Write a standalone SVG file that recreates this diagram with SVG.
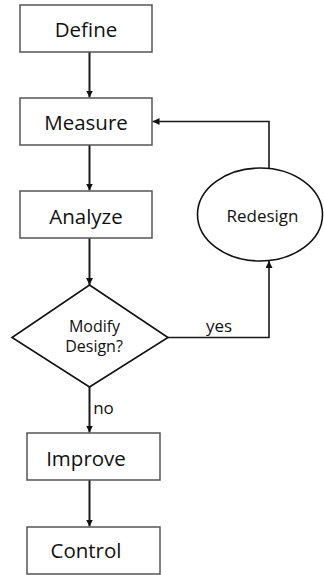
<svg xmlns="http://www.w3.org/2000/svg" width="324" height="575" viewBox="0 0 324 575">
  <style>
    .box { fill: #fff; stroke: #555; stroke-width: 1.5; }
    .shape { fill: #fff; stroke: #111; stroke-width: 1.6; }
    .label { font-family: "Open Sans", "Noto Sans", sans-serif; fill: #111; text-anchor: middle; }
    .big { font-size: 20.5px; }
    .small { font-size: 17px; }
    .dia { font-size: 16px; }
    .edge { fill: none; stroke: #1a1a1a; stroke-width: 2; }
    .thin { fill: none; stroke: #1a1a1a; stroke-width: 1.6; }
  </style>
  <defs>
    <marker id="arrow" viewBox="0 0 8 8" refX="8" refY="4" markerWidth="7" markerHeight="7" markerUnits="userSpaceOnUse" orient="auto">
      <path d="M0,0 L8,4 L0,8 Z" fill="#111"/>
    </marker>
  </defs>

  <!-- connectors -->
  <g id="connectors">
    <line class="edge" x1="89.5" y1="52" x2="89.5" y2="97.5" marker-end="url(#arrow)"/>
    <line class="edge" x1="89.5" y1="145" x2="89.5" y2="190.5" marker-end="url(#arrow)"/>
    <line class="edge" x1="89.5" y1="238" x2="89.5" y2="285" marker-end="url(#arrow)"/>
    <line class="edge" x1="89.5" y1="387" x2="89.5" y2="432.5" marker-end="url(#arrow)"/>
    <line class="edge" x1="89.5" y1="480" x2="89.5" y2="526.5" marker-end="url(#arrow)"/>
    <polyline class="thin" points="168,337.5 269,337.5 269,261" marker-end="url(#arrow)"/>
    <polyline class="thin" points="269,168 269,121.5 152.5,121.5" marker-end="url(#arrow)"/>
    <text class="label small" x="219" y="331.5">yes</text>
    <text class="label small" x="103.5" y="414">no</text>
  </g>

  <g id="define">
    <rect class="box" x="20" y="5" width="132" height="47"/>
    <text class="label big" x="86" y="36.5">Define</text>
  </g>
  <g id="measure">
    <rect class="box" x="20" y="98" width="132" height="47"/>
    <text class="label big" x="86" y="130">Measure</text>
  </g>
  <g id="analyze">
    <rect class="box" x="20" y="191" width="132" height="47"/>
    <text class="label big" x="86" y="224">Analyze</text>
  </g>
  <g id="modify-design">
    <polygon class="shape" points="89.5,285 168,337.5 89.5,387 12,337.5"/>
    <text class="label dia" x="94.5" y="332">Modify</text>
    <text class="label dia" x="94" y="352">Design?</text>
  </g>
  <g id="redesign">
    <ellipse class="shape" cx="260" cy="214.5" rx="62.5" ry="46.5"/>
    <text class="label small" x="262.5" y="221.5">Redesign</text>
  </g>
  <g id="improve">
    <rect class="box" x="27" y="433" width="133" height="47"/>
    <text class="label big" x="86" y="466">Improve</text>
  </g>
  <g id="control">
    <rect class="box" x="27" y="527" width="133" height="47"/>
    <text class="label big" x="86" y="558">Control</text>
  </g>
</svg>
